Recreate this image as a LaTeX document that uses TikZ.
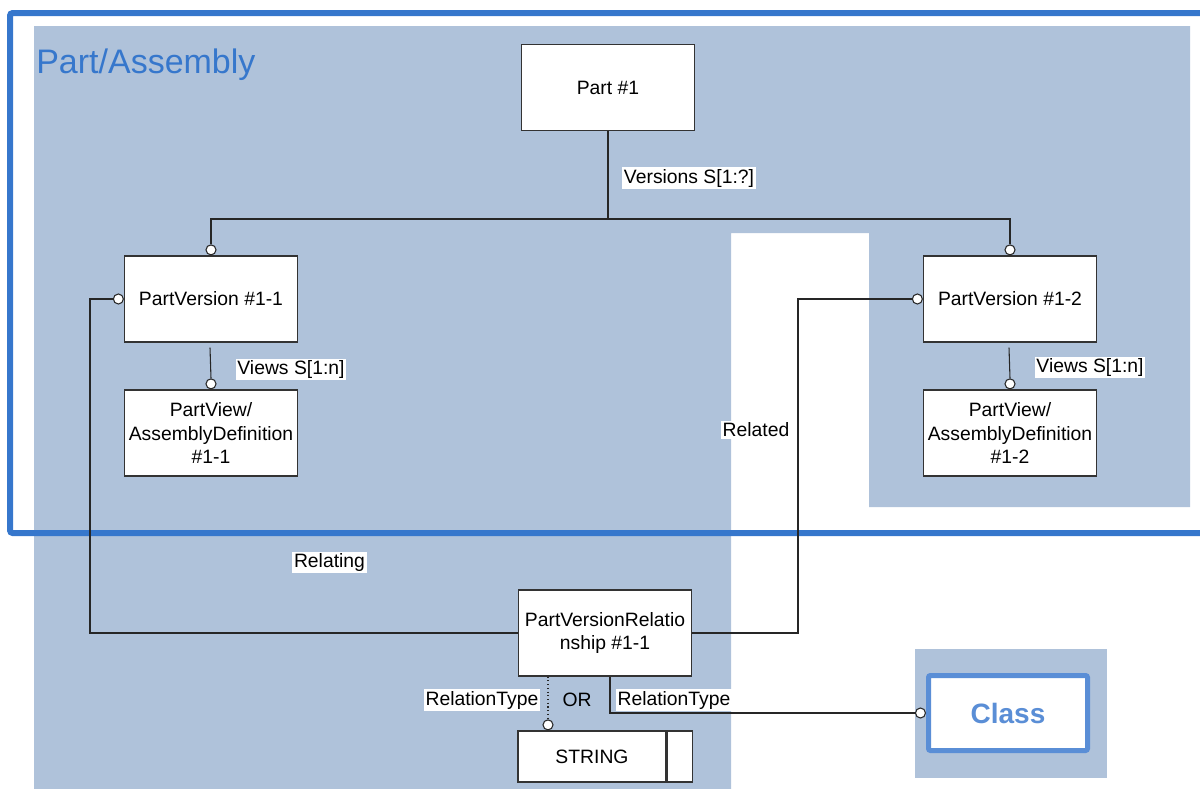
\documentclass[tikz,border=0pt]{standalone}
\usepackage{fontspec}
\setmainfont{Liberation Sans}
\usetikzlibrary{positioning}
\definecolor{areablue}{HTML}{AFC2DA}
\definecolor{frameblue}{HTML}{3677CC}
\definecolor{classblue}{HTML}{5A8ED6}

\begin{document}
\begin{tikzpicture}[x=0.75pt,y=-0.75pt,node distance=100.5pt,on grid,
    every node/.style={font=\fontsize{14.5}{17.5}\selectfont}]
  \tikzstyle{entity}=[rectangle,draw=black!80,line width=0.9pt,fill=white,minimum width=129.75pt,minimum height=64.5pt,align=center,inner sep=1pt]
  \tikzstyle{endc}=[circle,draw=black!85,line width=0.8pt,fill=white,minimum size=7.5pt,inner sep=0pt]
  \tikzstyle{role}=[fill=white,inner sep=1.2pt]
  \tikzstyle{link}=[draw=black!85,line width=0.8pt]

  \useasboundingbox (0,0) rectangle (1200,789);
  \clip (0,0) rectangle (1200,789);

  % Areas
  \fill[areablue] (34,26) -- (1190,26) -- (1190,507) -- (869,507) -- (869,233)
    -- (731,233) -- (731,789) -- (34,789) -- cycle;
  \fill[areablue] (915,649) rectangle (1107,778);
  \draw[frameblue,line width=4.5pt,rounded corners=2pt] (10,13) rectangle (1215,533);
  \node[anchor=base west,inner sep=0pt,text=frameblue,font=\fontsize{25.5}{30}\selectfont] (title) at (36,73) {Part/Assembly};

  % Entities
  \node[entity] (part1) at (608,87.5) {Part \#1};
  \node[entity] (pv1) at (211,299) {PartVersion \#1-1};
  \node[entity] (pv2) at (1010,299) {PartVersion \#1-2};
  \node[entity] (view1) [below=of pv1] {PartView/\\AssemblyDefinition\\\#1-1};
  \node[entity] (view2) [below=of pv2] {PartView/\\AssemblyDefinition\\\#1-2};
  \node[entity] (pvr) at (605,633) {PartVersionRelatio\\nship \#1-1};
  \node[entity,minimum width=111pt,minimum height=38.25pt] (strg) at (592,756.5) {STRING};
  \node[entity,minimum width=18.75pt,minimum height=38.25pt,anchor=west] (strgend) at (strg.east) {};
  \node[rectangle,draw=classblue,line width=3.75pt,rounded corners=1.5pt,fill=white,
    minimum width=119.25pt,minimum height=56.25pt,text=classblue,
    font=\fontsize{21}{25}\selectfont\bfseries] (cls) at (1008,713) {Class};

  % End circles
  \node[endc,anchor=south] (c1) at (pv1.north) {};
  \node[endc,anchor=south] (c2) at (pv2.north) {};
  \node[endc,anchor=south] (c3) at (view1.north) {};
  \node[endc,anchor=south] (c4) at (view2.north) {};
  \node[endc,anchor=east] (c5) at (pv1.west) {};
  \node[endc,anchor=east] (c6) at (pv2.west) {};
  \node[endc,anchor=south] (c7) at ([shift={(-44,0)}]strg.north) {};
  \node[endc,anchor=east] (c8) at (cls.west) {};

  \coordinate (vbar) at (608,219);
  \coordinate (relL) at (90,633);
  \coordinate (relR) at (798,633);

  % Connectors
  \draw[link] (part1.south) -- (vbar);
  \draw[link] (c1.north) |- (vbar) -| (c2.north);
  \draw[link] ([shift={(-1,5)}]pv1.south) -- (c3.north);
  \draw[link] ([shift={(-1,5)}]pv2.south) -- (c4.north);
  \draw[link] (pvr.west) -- (relL) |- (c5.west);
  \draw[link] (pvr.east) -- (relR) |- (c6.west);
  \draw[link,dotted] ([shift={(-57,0)}]pvr.south) -- (c7.north);
  \draw[link] ([shift={(5,0)}]pvr.south) |- (c8.west);

  % Role labels
  \node[role] (lver) at (689,178) {Versions S[1:?]};
  \node[role] (lview1) at (291,369.5) {Views S[1:n]};
  \node[role] (lview2) at (1090,367.5) {Views S[1:n]};
  \node[role] (lrelating) at (329.5,562.5) {Relating};
  \node[role] (lrelated) at (756,430) {Related};
  \node[role] (ltype1) at (482,700) {RelationType};
  \node (lor) at (577,700) {OR};
  \node[role] (ltype2) at (674,700) {RelationType};
\end{tikzpicture}
\end{document}
